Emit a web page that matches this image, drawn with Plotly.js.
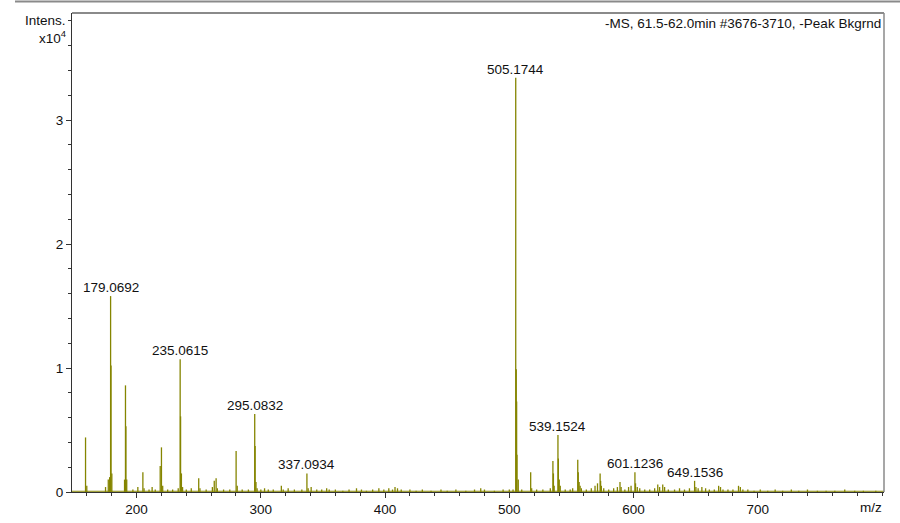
<!DOCTYPE html>
<html>
<head>
<meta charset="utf-8">
<script src="https://cdn.plot.ly/plotly-3.0.1.min.js"></script>
<style>html,body{margin:0;padding:0;background:#fff;}#chart{width:900px;height:523px;}</style>
</head>
<body>
<div id="chart"></div>
<script>
// Peak list: m/z and intensity (x10^4)
const peakMz = [
  158.9,159.9,175.0,177.2,178.3,179.07,179.4,180.07,
  190.3,191.05,191.4,192.05,197,201,205.05,206,210,212.5,215,
  219.0,220.0,221,225,229,233.5,235.06,235.4,236.07,237,240,244,
  250.0,251,256,261,262.5,264.0,265,270,275,280.1,281,285,290,
  295.08,295.4,296.09,297,300,303,306,310,316.5,318,322,327,333,
  337.09,338.1,340.5,345,349,353,355,360,366,371,377,381,385,390,
  395,399,403,406,408,410,413,420,425,430,437,445,450,457,465,472,
  477,480,488,495,500,503,
  505.17,505.6,505.9,506.18,507.2,510,
  517.2,518,522,527,533,535.1,535.5,536.1,539.15,539.5,540.2,541,
  545,549,551,555.1,555.5,556.2,557,558,562,566,569,571,573.1,573.5,
  574.1,576,580,584,587,589.1,590,593,596,598,601.12,601.6,603,605,
  609,613,617,619.5,621,623.5,625,628,633,637,641,645,649.15,650.2,
  652,655,658,661,665,668.5,670,672,676,680,684.5,686,688,692,697,
  702,708,714,720,727,733,740,748,755,762,770,778,785,795
];
const peakInt = [
  0.44,0.05,0.04,0.10,0.12,1.58,1.02,0.15,
  0.10,0.86,0.53,0.10,0.02,0.04,0.16,0.03,0.02,0.04,0.02,
  0.21,0.36,0.05,0.02,0.02,0.03,1.07,0.61,0.15,0.04,0.02,0.03,
  0.11,0.03,0.02,0.04,0.09,0.11,0.03,0.02,0.02,0.33,0.05,0.02,0.02,
  0.63,0.37,0.08,0.03,0.02,0.03,0.02,0.02,0.05,0.02,0.03,0.02,0.02,
  0.15,0.03,0.04,0.02,0.02,0.03,0.02,0.02,0.01,0.02,0.03,0.02,0.01,0.02,
  0.03,0.02,0.03,0.02,0.04,0.03,0.02,0.02,0.01,0.02,0.01,0.02,0.01,0.02,0.01,0.02,
  0.03,0.02,0.01,0.02,0.02,0.02,
  3.34,0.99,0.73,0.30,0.10,0.02,
  0.16,0.03,0.02,0.02,0.03,0.25,0.15,0.05,0.46,0.27,0.10,0.05,
  0.02,0.02,0.03,0.26,0.16,0.08,0.05,0.03,0.02,0.03,0.05,0.07,0.15,0.09,
  0.05,0.03,0.02,0.03,0.04,0.08,0.04,0.02,0.04,0.05,0.16,0.07,0.04,0.03,
  0.02,0.02,0.03,0.06,0.04,0.06,0.04,0.02,0.02,0.03,0.02,0.03,0.09,0.04,
  0.03,0.04,0.03,0.02,0.02,0.05,0.04,0.02,0.02,0.02,0.05,0.04,0.02,0.02,0.01,
  0.02,0.01,0.02,0.01,0.02,0.01,0.02,0.01,0.01,0.01,0.02,0.01,0.01,0.01
];
// Labelled peaks
const labelMz = [179.07,235.06,295.08,337.09,505.17,539.15,601.12,649.15];
const labelInt = [1.58,1.07,0.63,0.15,3.34,0.46,0.16,0.09];
const labelText = ["179.0692","235.0615","295.0832","337.0934","505.1744","539.1524","601.1236","649.1536"];
// Axis ticks
const xTicks = [200,300,400,500,600,700];
const yTicks = [0,1,2,3];
const headerText = "-MS, 61.5-62.0min #3676-3710, -Peak Bkgrnd";

const FONT = "Liberation Sans, Arial, sans-serif";
const FS = 13.5;
const TXT = "#111";
const olive = "#858500";

// stick spectrum: each peak drawn as a vertical line from 0 to its intensity
const stickX = [], stickY = [];
peakMz.forEach((m, i) => { stickX.push(m, m, null); stickY.push(0, peakInt[i], null); });

const trace = {
  type: "scatter", mode: "lines",
  x: stickX, y: stickY,
  line: {color: olive, width: 1.3},
  connectgaps: false, hoverinfo: "skip"
};
const baseline = {
  type: "scatter", mode: "lines",
  x: [148, 801.6], y: [0.006, 0.006],
  line: {color: olive, width: 1}, hoverinfo: "skip"
};

const annotations = labelMz.map((m, i) => ({
  x: m, y: labelInt[i], xref: "x", yref: "y",
  text: labelText[i], showarrow: false,
  xanchor: "center", yanchor: "bottom", yshift: -1,
  font: {family: FONT, size: FS, color: TXT}
}));
annotations.push({
  xref: "paper", yref: "paper", x: 1, y: 1, xanchor: "right", yanchor: "top",
  xshift: -1, yshift: -1, text: headerText, showarrow: false,
  font: {family: FONT, size: FS, color: TXT}
});
annotations.push({
  xref: "paper", yref: "y", x: 0, y: 3.8, xanchor: "right", yanchor: "middle",
  xshift: -4, text: "Intens.", showarrow: false,
  font: {family: FONT, size: FS, color: TXT}
});
annotations.push({
  xref: "paper", yref: "y", x: 0, y: 3.67, xanchor: "right", yanchor: "middle",
  xshift: -4, text: "x10<sup>4</sup>", showarrow: false,
  font: {family: FONT, size: FS, color: TXT}
});
annotations.push({
  xref: "paper", yref: "paper", x: 1, y: 0, xanchor: "right", yanchor: "top",
  yshift: -6, text: "m/z", showarrow: false,
  font: {family: FONT, size: FS, color: TXT}
});

const layout = {
  width: 900, height: 523,
  margin: {l: 72, r: 16, t: 13, b: 31, pad: 0},
  paper_bgcolor: "#fff", plot_bgcolor: "#fff",
  showlegend: false,
  font: {family: FONT, size: FS, color: TXT},
  xaxis: {
    range: [148, 801.6], tickmode: "array", tickvals: xTicks,
    ticks: "outside", ticklen: 5, tickcolor: "#333", tickwidth: 1,
    showline: true, linecolor: "#333", linewidth: 1,
    showgrid: false, zeroline: false, fixedrange: true,
    tickfont: {family: FONT, size: FS, color: TXT},
    minor: {dtick: 20, tick0: 0, ticks: "outside", ticklen: 3, tickcolor: "#333", showgrid: false}
  },
  yaxis: {
    range: [0, 3.863], tickmode: "array", tickvals: yTicks,
    ticks: "outside", ticklen: 5, tickcolor: "#333", tickwidth: 1,
    showline: true, linecolor: "#333", linewidth: 1,
    showgrid: false, zeroline: false, fixedrange: true,
    tickfont: {family: FONT, size: FS, color: TXT},
    minor: {dtick: 0.2, tick0: 0, ticks: "outside", ticklen: 3, tickcolor: "#333", showgrid: false}
  },
  shapes: [
    {type: "line", xref: "paper", yref: "paper", x0: 0, x1: 1, y0: 1, y1: 1,
     line: {color: "#8a8a8a", width: 2}, layer: "above"},
    {type: "line", xref: "paper", yref: "paper", x0: 1, x1: 1, y0: 0, y1: 1,
     line: {color: "#8a8a8a", width: 1.5}, layer: "above"},
    {type: "line", xref: "paper", yref: "paper", x0: (15 - 72) / 812, x1: (900 - 72) / 812,
     y0: 1 + 11.5 / 479, y1: 1 + 11.5 / 479,
     line: {color: "#8a8a8a", width: 2}, layer: "above"}
  ],
  annotations: annotations
};

Plotly.newPlot("chart", [baseline, trace], layout, {displayModeBar: false, staticPlot: true});
</script>
</body>
</html>
